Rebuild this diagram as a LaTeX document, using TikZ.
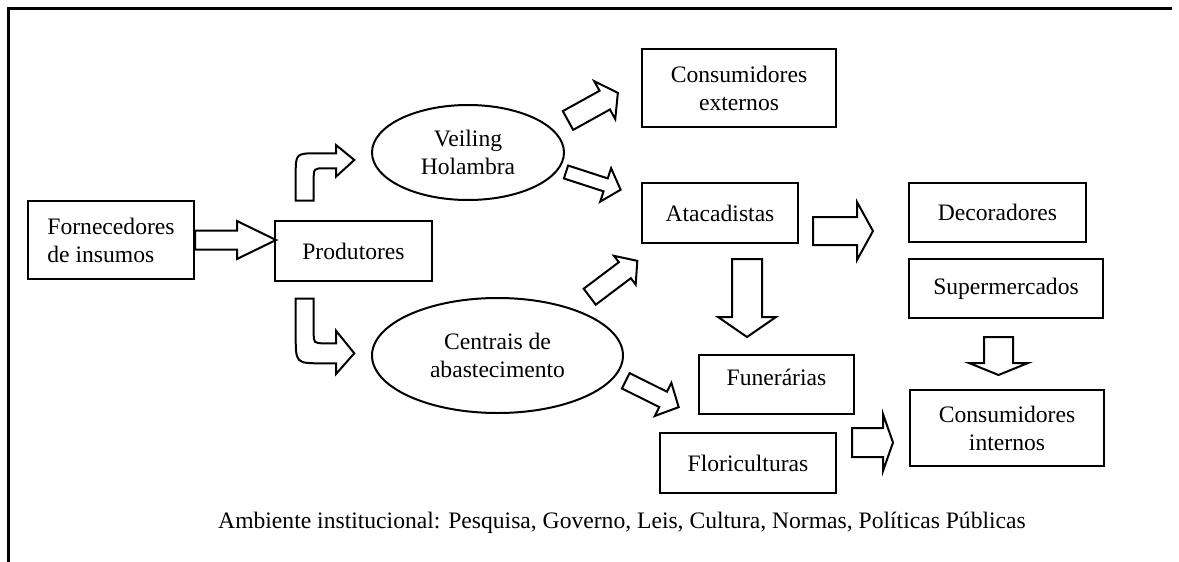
\documentclass[tikz,border=0pt]{standalone}
\usepackage{fontspec}
\setmainfont{Liberation Serif}
\usetikzlibrary{shapes}
\tikzstyle{box} = [rectangle, draw, line width=1pt, align=center, inner sep=2pt]
\tikzstyle{oval} = [ellipse, draw, line width=1pt, align=center, inner sep=0pt]
\tikzstyle{fat} = [draw, line width=1pt, line join=miter, fill=white]
\tikzstyle{frame} = [line width=1.5pt]
% block arrow: tail, angle, shaft length, half shaft, half head, head length
\newcommand{\blockarrow}[6]{%
  \draw[fat, shift={#1}, rotate=#2] (0,-#4) -- (#3,-#4) -- (#3,-#5) -- (#3+#6,0) -- (#3,#5) -- (#3,#4) -- (0,#4) -- cycle;}

\begin{document}
\begin{tikzpicture}[x=0.5pt, y=-0.5pt, font=\fontsize{11.8}{14}\selectfont]
   \useasboundingbox (0,0) rectangle (1179,562);
   \draw[frame] (8,562) -- (8,8) -- (1172,8);
   % nodes
   \node[box, minimum width=83pt, minimum height=39pt, align=left] (forn) at (111,240) {Fornecedores\\de insumos};
   \node[box, minimum width=78.5pt, minimum height=30pt] (prod) at (353.5,251) {Produtores};
   \node[oval, minimum width=96pt, minimum height=47.5pt] (veil) at (468,152.5) {Veiling\\Holambra};
   \node[oval, minimum width=125.5pt, minimum height=57.5pt] (cent) at (497.5,355.5) {Centrais de\\abastecimento};
   \node[box, minimum width=97pt, minimum height=39pt] (cext) at (739,88) {Consumidores\\externos};
   \node[box, minimum width=78pt, minimum height=30pt] (atac) at (720,213) {Atacadistas};
   \node[box, minimum width=88.5pt, minimum height=29.5pt] (dec) at (997.5,212.5) {Decoradores};
   \node[box, minimum width=97pt, minimum height=29.5pt] (sup) at (1006,288.5) {Supermercados};
   \node[box, minimum width=97pt, minimum height=38pt] (cint) at (1007,428) {Consumidores\\internos};
   \node[box, minimum width=77.5pt, minimum height=29.5pt, text depth=7pt] (fun) at (776.5,384.5) {Funerárias};
   \node[box, minimum width=88pt, minimum height=30pt] (flor) at (748,463) {Floriculturas};
   \node (amb) at (622,523) {Ambiente institucional: Pesquisa, Governo, Leis, Cultura, Normas, Políticas Públicas};

   % arrows
   \blockarrow{(forn.east)}{0}{42}{9.5}{19}{39}
   \draw[fat] (295.7,200.7) -- (295.7,175) .. controls (295.7,153.3) .. (318,153.3) -- (336,153.3) -- (336,145) -- (354.3,160) -- (336,176.7) -- (336,168.3) -- (325,168.3) .. controls (313.7,168.3) .. (313.7,180) -- (313.7,200.7) -- cycle;
   \draw[fat] (295.7,298.7) -- (295.7,335) .. controls (295.7,363.3) .. (322,363.3) -- (336,363.3) -- (336,374) -- (354.3,353.3) -- (336,330.7) -- (336,343.3) -- (325,343.3) .. controls (313.7,343.3) .. (313.7,332) -- (313.7,298.7) -- cycle;
   \blockarrow{(568,120.5)}{29}{42}{10.7}{21.7}{15}
   \blockarrow{(566,172)}{-18}{41.7}{6.8}{17.6}{15.7}
   \blockarrow{(589.7,296.7)}{37}{44}{10}{18}{15.6}
   \blockarrow{(625.8,380.8)}{-26.5}{41.7}{8.6}{18.5}{17.4}
   \blockarrow{(813,231)}{0}{44}{14}{29}{16}
   \blockarrow{(747,259)}{-90}{58}{15}{29}{20}
   \blockarrow{(998.5,337)}{-90}{26}{14.5}{29.5}{12}
   \blockarrow{(852,442.5)}{0}{31}{14.5}{28.5}{10}
\end{tikzpicture}
\end{document}
